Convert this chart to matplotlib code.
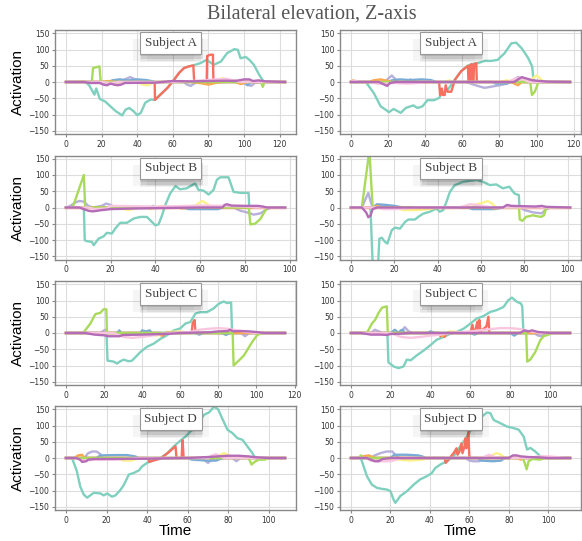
import matplotlib
matplotlib.use("Agg")
import matplotlib.pyplot as plt
import matplotlib.patheffects as pe

# line colours (Set3-like), in drawing order; purple ends up on top
colors = {
    "teal": "#7fd0bf", "yellow": "#fbf38a", "lavender": "#b7b0dc",
    "red": "#f76f5e", "blue": "#78acd6", "orange": "#fca94e",
    "green": "#a9da5a", "pink": "#f9c6df", "purple": "#b46cb7",
}

# each series: list of (time, activation)
subj_a_left = {
    "teal": [(0, 0), (11, 0), (13, -10), (16, -39), (17, -20), (19, -52), (22, -60), (25, -75), (28, -90),
             (30, -97), (31.5, -103), (33.5, -85), (35.5, -80), (38, -90), (40, -102), (42, -95), (44.5, -64),
             (47.5, -54), (50, -55), (53, -39), (57, -18), (60.7, 7), (63.5, 28), (66.3, 43), (69, 48),
             (71.5, 51), (72.5, 53), (75.5, 58), (79, 68), (83, 53), (87, 63), (90.5, 89), (94.5, 101),
             (96.5, 99), (98, 73), (101, 77), (103, 68), (105.5, 53), (108.5, 22), (110.5, 5), (111, 0), (123, 0)],
    "yellow": [(0, 0), (5, 0), (8, 3), (12, 0), (40, 0), (43, -8), (46, -10), (48, -5), (50, 0), (84, 0),
               (86, 8), (88, 12), (90, 8), (92, 0), (123, 0)],
    "lavender": [(0, 0), (30, 0), (33, 8), (36, 15), (39, 8), (42, 0), (66, 0), (68, -8), (70, -12), (72, -5),
                 (74, 0), (90, 0), (95, 5), (100, -5), (104, -12), (106, -3), (110, 0), (123, 0)],
    "red": [(0, 0), (49.8, 0), (50, -55), (53, -39), (57, -18), (60.7, 7), (63.5, 28), (66.3, 43), (69, 48),
            (71.5, 51), (72, 0), (79, 0), (79.3, 80), (81, 84), (82.5, 84), (82.8, 0), (123, 0)],
    "blue": [(0, 0), (24, 0), (26, 5), (30, 8), (35, 5), (40, 8), (45, 6), (48, 3), (50, 0), (75, 0), (78, -5),
             (82, 0), (100, 0), (102, -10), (104, 0), (123, 0)],
    "orange": [(0, 0), (20, 0), (24, 3), (28, 0), (70, 0), (75, -3), (80, -8), (84, -3), (88, 0), (95, 0),
               (98, -6), (102, 0), (123, 0)],
    "green": [(0, 0), (14.5, 0), (15.2, 43), (18.8, 48), (19.5, 0), (109.5, 0), (110.5, -15), (111.5, 0), (123, 0)],
    "pink": [(0, 0), (20, 0), (25, -3), (30, 0), (60, 0), (70, 3), (80, 6), (85, 8), (90, 10), (94, 5), (98, 0),
             (123, 0)],
    "purple": [(0, 0), (10, 0), (14, -3), (19, -3), (21, -8), (23, -10), (25, -5), (27, -8), (29, -10), (31, -8),
               (33, -3), (50, -2), (60, 3), (70, 2), (80, 3), (90, 4), (95, 3), (100, 8), (103, 8), (105, 3),
               (108, 5), (112, 2), (123, 0)],
}

subj_a_right = {
    "teal": [(0, 0), (8, 0), (12.3, -34), (16, -75), (18.6, -85), (20.4, -93), (23, -83), (26.8, -95),
             (29.5, -80), (32, -75), (33.6, -72), (35.8, -80), (38.5, -75), (41.2, -56), (44.8, -56), (47.5, -49),
             (49, -35), (52, -25), (56, 7), (59.3, 33), (63, 50), (65, 55), (68.4, 58), (72, 65), (75.6, 65),
             (79, 68), (82.8, 89), (86.4, 119), (89, 121), (91.9, 104), (93.7, 89), (95.5, 73), (97.6, 48),
             (98.2, 12), (99, 0), (118, 0)],
    "yellow": [(0, 0), (50, 0), (53, 5), (55, 0), (80, 0), (84, 5), (88, 0), (96, 0), (98, 12), (100, 20),
               (102, 10), (104, 0), (118, 0)],
    "lavender": [(0, 0), (18, 0), (20, 10), (22, 20), (24, 8), (26, 0), (30, 0), (32, 8), (34, 0), (62, 0),
                 (66, -8), (70, -15), (72, -18), (76, -14), (80, -10), (84, -5), (87, 5), (90, 15), (93, 8),
                 (95, 0), (118, 0)],
    "red": [(0, 0), (47.5, 0), (48, -40), (49, -20), (49.5, -40), (50.5, -40), (51, -10), (52, -30), (54, -30),
            (56, 7), (59.3, 33), (63, 50), (63.3, 0), (64, 0), (64.3, 52), (65, 55), (65.3, 0), (66, 0),
            (66.3, 55), (67.5, 58), (67.8, 0), (118, 0)],
    "blue": [(0, 0), (20, 0), (22, 5), (26, 8), (32, 6), (38, 8), (43, 6), (46, 0), (76, 0), (78, -5), (84, -5),
             (86, 0), (118, 0)],
    "orange": [(0, 0), (1, 5), (3, 0), (10, 0), (12, 5), (16, 8), (20, 3), (22, 0), (86, 0), (88, -5), (90, -10),
               (92, 0), (118, 0)],
    "green": [(0, 0), (96.5, 0), (97.5, -40), (99, -30), (101, 0), (118, 0)],
    "pink": [(0, 0), (2, 5), (4, 0), (10, 0), (14, -5), (20, -5), (24, -3), (30, -5), (36, -3), (40, 0), (85, 0),
             (88, 10), (91, 12), (94, 5), (96, 0), (118, 0)],
    "purple": [(0, 0), (15, 0), (18, -8), (19.5, -12), (21, -3), (24, 0), (88, 0), (90, 8), (92, 15), (95, 10),
               (98, 5), (102, 3), (106, 1), (118, 0)],
}

subj_b_left = {
    "teal": [(0, 0), (8, 0), (8.4, -100), (9, -103), (11.6, -106), (12.4, -116), (14.6, -96), (16.8, -89),
             (18.3, -78), (20.6, -80), (22, -65), (24.3, -47), (27.3, -47), (30.3, -34), (33.2, -29), (36.2, -29),
             (38.4, -44), (40, -55), (41.4, -52), (43, -24), (44.4, 7), (46.6, 43), (49, 66), (51, 56), (54, 59),
             (57.8, 74), (59.3, 54), (61.5, 52), (63.8, 40), (66, 54), (67.5, 85), (69, 93), (72.7, 93), (75, 48),
             (78, 45), (81.7, 45), (82, 0), (98, 0)],
    "yellow": [(0, 0), (24, 0), (26, -5), (28, -8), (30, -5), (32, 0), (36, 0), (38, -5), (40, 0), (43, 5),
               (45, 0), (57, 0), (59, 12), (61, 20), (63, 12), (65, 0), (70, 0), (72, 5), (74, 0), (98, 0)],
    "lavender": [(0, 0), (2, 5), (4, 15), (6, 20), (8, 18), (10, 5), (12, 0), (16, 5), (18, 12), (20, 8),
                 (22, 0), (75, 0), (78, -10), (81, -15), (84, -22), (87, -18), (90, -5), (92, 0), (98, 0)],
    "red": [(0, 0), (98, 0)],
    "blue": [(0, 0), (38, 0), (39, 5), (40, 0), (52, 0), (55, -5), (62, -5), (68, -5), (70, 0), (98, 0)],
    "orange": [(0, 0), (50, 0), (52, -3), (55, 0), (98, 0)],
    "green": [(0, 0), (3, 0), (8, 100), (8.6, 0), (81.8, 0), (82.5, -52), (84.6, -50), (87, -35), (90, 0),
              (98, 0)],
    "pink": [(0, 0), (10, 0), (13, -5), (18, -3), (20, 5), (30, 4), (40, 3), (50, 4), (60, 6), (70, 5), (80, 3),
             (85, 0), (98, 0)],
    "purple": [(0, 0), (6, 0), (8, -5), (10, -10), (12, -12), (14, -10), (16, -8), (20, -5), (30, -3), (40, -2),
               (60, 0), (70, 0), (71, 8), (72, 10), (74, 6), (80, 5), (86, 5), (88, 3), (90, 0), (98, 0)],
}

subj_b_right = {
    "teal": [(0, 0), (9, 0), (10, -175), (12.5, -175), (13.1, -96), (14.2, -93), (15.7, -106), (16.8, -111),
             (18.8, -70), (20.3, -62), (22.6, -65), (25, -44), (26.5, -37), (29.5, -37), (31, -29), (33.3, -19),
             (36.4, -13), (39.4, -3), (40.9, -13), (42.5, -8), (44, 17), (45.6, 48), (47.9, 69), (51.7, 79),
             (54.7, 82), (57.8, 85), (60.9, 79), (64, 69), (67, 71), (70, 59), (73, 64), (75.4, 43), (77.4, 38),
             (77.7, 0), (101, 0)],
    "yellow": [(0, 0), (20, 0), (24, -8), (30, -8), (36, -5), (40, 0), (55, 0), (58, 10), (61, 15), (63, 20),
               (65, 12), (67, 0), (101, 0)],
    "lavender": [(0, 0), (5, 0), (7, 30), (8, 45), (9, 20), (10, 0), (14, 5), (16, 0), (78, 0), (80, -8),
                 (84, -15), (88, -18), (90, -5), (92, 0), (101, 0)],
    "red": [(0, 0), (101, 0)],
    "blue": [(0, 0), (10, 0), (12, 10), (16, 8), (20, 5), (24, 0), (54, 0), (56, -5), (66, -5), (70, 0), (101, 0)],
    "orange": [(0, 0), (10, 0), (12, 5), (14, 0), (64, 0), (66, -3), (70, 0), (101, 0)],
    "green": [(0, 0), (5, 0), (8.5, 175), (10, 0), (77.5, 0), (77.8, -37), (79, -41), (80.7, -29), (83.8, -24),
              (87.6, -29), (89, -24), (90, 0), (101, 0)],
    "pink": [(0, 0), (12, 0), (15, -5), (20, -5), (25, -3), (30, 0), (50, 0), (55, 10), (58, 8), (62, 3),
             (66, 0), (101, 0)],
    "purple": [(0, 0), (5, 0), (7, -15), (8, -30), (9, -25), (10, -5), (12, 0), (70, 0), (72, 8), (74, 5),
               (80, 4), (85, 3), (88, 5), (90, 2), (101, 0)],
}

subj_c_left = {
    "teal": [(0, 0), (21.3, 0), (21.8, -85), (25, -88), (26.8, -94), (28.5, -87), (30.3, -82), (32.9, -87),
             (34.7, -85), (39, -59), (42.6, -42), (46, -33), (49.6, -18), (53, -7), (56.6, 8), (60, 14),
             (62.7, 29), (65.3, 34), (68, 60), (70.6, 64), (74, 64), (77.6, 76), (80.2, 90), (82.8, 97),
             (84.6, 92), (86.7, 94), (87.2, 0), (115, 0)],
    "yellow": [(0, 0), (44, 0), (47, -8), (50, -5), (53, 3), (60, 5), (65, 0), (115, 0)],
    "lavender": [(0, 0), (18, 0), (20, 8), (21, 10), (22, 0), (92, 0), (94, -10), (96, 0), (115, 0)],
    "red": [(0, 0), (50, 0), (51, -8), (52, 0), (66, 0), (66.5, 30), (67.5, 40), (68, 0), (115, 0)],
    "blue": [(0, 0), (27, 0), (28, 8), (29, 0), (39, 0), (40, 8), (42, 5), (44, 8), (45, 0), (68, 0), (70, -5),
             (72, 0), (82, 0), (84, -6), (86, 0), (115, 0)],
    "orange": [(0, 0), (48, 0), (50, -8), (52, 0), (115, 0)],
    "green": [(0, 0), (9, 0), (12.8, 29), (15.4, 58), (18, 62), (19.8, 73), (21.2, 73), (21.5, 0), (87.5, 0),
              (88, -100), (90.7, -85), (93.3, -70), (95, -54), (97.7, -28), (100.3, -7), (102, -2), (104, 0),
              (115, 0)],
    "pink": [(0, 0), (25, 0), (30, -12), (35, -15), (40, -12), (45, -8), (50, -3), (55, 0), (65, 3), (70, 10),
             (75, 13), (80, 15), (85, 13), (90, 8), (95, 3), (100, 0), (115, 0)],
    "purple": [(0, 0), (10, 0), (15, -5), (20, -7), (22, -10), (28, -10), (30, -6), (40, -5), (55, -2), (60, 0),
               (75, 2), (80, 5), (85, 6), (86, 10), (88, 5), (92, 6), (96, 5), (100, 3), (104, 0), (115, 0)],
}

subj_c_right = {
    "teal": [(0, 0), (18.3, 0), (18.8, -90), (21.4, -103), (23.9, -108), (26.4, -103), (28, -82), (30, -84),
             (33, -69), (36.5, -54), (39.8, -38), (43, -21), (46.5, -12), (50, -2), (53, 3), (56.5, 13),
             (60, 29), (63, 44), (66.5, 52), (70, 65), (73, 70), (76.6, 80), (79, 101), (80.8, 109), (83.3, 96),
             (85.3, 91), (86, 82), (86.6, 0), (110, 0)],
    "yellow": [(0, 0), (48, 0), (50, 5), (54, 3), (56, 0), (110, 0)],
    "lavender": [(0, 0), (10, 0), (12, 10), (14, 5), (16, 0), (25, 0), (27, 18), (29, 5), (31, 0), (92, 0),
                 (94, -8), (96, -10), (98, 0), (110, 0)],
    "red": [(0, 0), (44, 0), (45, -10), (46, -5), (47, -12), (48, 0), (60, 0), (61, 25), (61.5, 5), (62.5, 10),
            (63.5, 35), (64, 8), (64.5, 40), (65, 5), (66, 10), (68, 20), (69, 50), (69.5, 0), (110, 0)],
    "blue": [(0, 0), (20, 0), (22, 10), (23, 5), (24, 0), (25, 8), (26, 10), (27, 0), (38, 0), (40, 5), (42, 0),
             (60, 0), (62, -5), (64, 0), (80, 0), (82, -8), (84, 0), (110, 0)],
    "orange": [(0, 0), (44, 0), (46, -10), (48, 0), (110, 0)],
    "green": [(0, 0), (8, 0), (10.5, 29), (12.2, 41), (13.9, 62), (15.6, 78), (18, 82), (18.5, 0), (88, 0),
              (88.5, -88), (90, -82), (92.5, -59), (95, -23), (96.7, -10), (99.2, -5), (101, 0), (110, 0)],
    "pink": [(0, 0), (20, 0), (25, -12), (30, -15), (35, -12), (40, -8), (45, -5), (50, 0), (60, 5), (70, 12),
             (75, 15), (80, 15), (85, 12), (90, 5), (95, 0), (110, 0)],
    "purple": [(0, 0), (5, 0), (10, -5), (15, -5), (18, -6), (20, -3), (25, -2), (30, 0), (85, 0), (87, 8),
               (89, 5), (91, 8), (94, 3), (100, 0), (110, 0)],
}

subj_d_left = {
    "teal": [(0, 0), (3, 0), (5.4, -41), (7, -87), (8.7, -112), (10.4, -122), (12, -115), (13.7, -107),
             (17, -109), (18.6, -115), (20.3, -109), (22.7, -119), (24.4, -115), (27, -97), (28.6, -82),
             (31, -51), (33.4, -46), (36, -38), (37.5, -26), (40, -15), (43.3, -7), (46.6, 0), (50, 15),
             (53.2, 36), (56.5, 54), (59, 66), (61.4, 82), (64.7, 99), (68, 133), (70.5, 140), (73, 158),
             (75, 150), (77, 122), (79.6, 87), (82, 77), (84.5, 61), (87, 56), (89.4, 36), (91.9, 15),
             (92.8, 5), (94, 0), (108, 0)],
    "yellow": [(0, 0), (26, 0), (28, -8), (32, -8), (35, -3), (37, 0), (74, 0), (76, 10), (78, 15), (80, 8),
               (82, 0), (108, 0)],
    "lavender": [(0, 0), (9, 0), (11, 15), (13, 20), (15, 20), (17, 12), (18, 0), (66, 0), (68, -5), (70, -15),
                 (72, -5), (74, 0), (82, 0), (84, -10), (86, 0), (108, 0)],
    "red": [(0, 0), (40.5, 0), (41, -12), (43, -8), (46.6, -2), (50.7, 18), (54, 36), (54.5, 0), (57, 0),
            (57.5, 55), (58, 0), (108, 0)],
    "blue": [(0, 0), (15, 0), (17, 8), (25, 9), (30, 9), (34, 5), (36, 0), (60, 0), (62, -5), (70, -8), (74, -8),
             (76, -3), (78, 0), (108, 0)],
    "orange": [(0, 0), (4, 0), (6, 8), (8, 10), (9, 0), (108, 0)],
    "green": [(0, 0), (90, 0), (91.5, -20), (93, -12), (95, -5), (98, -5), (100, 0), (108, 0)],
    "pink": [(0, 0), (5, 0), (8, -8), (15, -5), (25, -5), (30, -3), (35, 0), (70, 0), (72, 8), (74, 12),
             (76, 5), (78, 0), (108, 0)],
    "purple": [(0, 0), (5, 0), (7, -5), (8, -12), (10, -10), (11, -5), (14, -3), (20, -3), (40, -2), (60, 0),
               (70, 3), (75, 5), (80, 7), (85, 7), (90, 5), (94, 2), (100, 0), (108, 0)],
}

subj_d_right = {
    "teal": [(0, 0), (5, 0), (8.1, -56), (10.6, -82), (13.2, -92), (15.7, -95), (18.2, -97), (20, -102),
             (21.6, -128), (22.5, -138), (25, -117), (28.4, -102), (31.8, -82), (35, -66), (38.5, -56),
             (41, -46), (42.7, -31), (45.3, -20), (48.6, -10), (52, 5), (55.4, 36), (57.1, 51), (58.8, 66),
             (61.3, 92), (63.9, 115), (66.4, 128), (68.9, 140), (70.6, 138), (72.3, 117), (75.7, 107), (79, 97),
             (82.4, 92), (85, 87), (87.5, 66), (89.2, 26), (90.9, 31), (93.4, 20), (96, 5), (98, 0), (111, 0)],
    "yellow": [(0, 0), (20, 0), (24, -5), (30, -8), (36, -5), (40, 0), (70, 0), (72, 10), (74, 15), (76, 10),
               (78, 0), (111, 0)],
    "lavender": [(0, 0), (10, 0), (12, 8), (15, 15), (18, 20), (21, 20), (23, 5), (25, 0), (58, 0), (60, -8),
                 (62, -10), (65, -10), (67, 0), (111, 0)],
    "red": [(0, 0), (47.5, 0), (48, -15), (49, -8), (50, 0), (52, 15), (53.5, 30), (54, 10), (55, 20), (56, 45),
            (56.5, 15), (57.5, 35), (58, 60), (58.5, 30), (59.5, 80), (60, 0), (111, 0)],
    "blue": [(0, 0), (20, 0), (22, 10), (28, 10), (34, 8), (36, 5), (38, 0), (64, 0), (66, -8), (72, -10),
             (76, -8), (78, 0), (111, 0)],
    "orange": [(0, 0), (4, 0), (6, 5), (9, 8), (11, 3), (12, 0), (84, 0), (86, -5), (88, 0), (111, 0)],
    "green": [(0, 0), (4, 0), (5, 8), (6, 0), (87, 0), (88, -15), (89, -35), (90, -10), (92, -3), (96, -5),
              (98, 0), (111, 0)],
    "pink": [(0, 0), (8, 0), (10, -8), (15, -10), (20, -10), (23, -5), (26, 0), (66, 0), (68, 5), (70, 10),
             (72, 5), (74, 0), (90, 0), (95, 5), (100, 5), (104, 3), (108, 0), (111, 0)],
    "purple": [(0, 0), (8, 0), (10, -5), (12, -10), (14, -10), (16, -3), (20, 0), (80, 0), (82, 8), (84, 8),
               (86, 5), (90, 3), (95, 2), (100, 0), (111, 0)],
}

panels = [
    (subj_a_left, "Subject A"), (subj_a_right, "Subject A"),
    (subj_b_left, "Subject B"), (subj_b_right, "Subject B"),
    (subj_c_left, "Subject C"), (subj_c_right, "Subject C"),
    (subj_d_left, "Subject D"), (subj_d_right, "Subject D"),
]

W, H = 582, 541
fig = plt.figure(figsize=(W / 100, H / 100), dpi=100)

col_left = [55, 340]
row_top = [30, 155.5, 281, 406]
ax_w, ax_h = 241, 104
box_x = [0.48, 0.46]

# soft-ish shadow under the subject boxes
shadow = [pe.SimplePatchShadow(offset=(dx, dy), shadow_rgbFace="k", alpha=a)
          for dx, dy, a in [(-5, -5, 0.04), (5, -5, 0.04), (0, -6, 0.06), (1, -4, 0.1), (0, -2, 0.1)]]

for i, (data, label) in enumerate(panels):
    r, c = divmod(i, 2)
    ax = fig.add_axes([col_left[c] / W, 1 - (row_top[r] + ax_h) / H, ax_w / W, ax_h / H])
    for name, col in colors.items():
        t = [p[0] for p in data[name]]
        v = [p[1] for p in data[name]]
        ax.plot(t, v, color=col, lw=1.7, solid_joinstyle="round")
    ax.set_ylim(-160, 160)
    ax.set_yticks([-150, -100, -50, 0, 50, 100, 150])
    ax.set_xticks(range(0, 140, 20))
    ax.set_xlim(-0.05 * t[-1], 1.05 * t[-1])
    ax.grid(True, color="#dddddd", lw=0.8)
    ax.set_axisbelow(True)
    for s in ax.spines.values():
        s.set_color("#888888")
        s.set_linewidth(1.0)
    ax.tick_params(labelsize=5.5, colors="#888888", labelcolor="#333333", length=2.5, width=0.8, pad=1.5)

    txt = ax.text(box_x[c], 0.875, label, transform=ax.transAxes, ha="center", va="center",
                  family="Liberation Serif", fontsize=9.5, color="#444444", zorder=10,
                  bbox=dict(boxstyle="square,pad=0.35", fc="white", ec="#999999", lw=0.8))
    txt.get_bbox_patch().set_path_effects(shadow + [pe.Normal()])

    if c == 0:
        fig.text(18 / W, 1 - (row_top[r] + ax_h / 2) / H, "Activation", rotation=90,
                 ha="center", va="center", family="Liberation Sans", fontsize=11)

fig.text(175 / W, 1 - 535 / H, "Time", ha="center", va="baseline", family="Liberation Sans", fontsize=11)
fig.text(460 / W, 1 - 535 / H, "Time", ha="center", va="baseline", family="Liberation Sans", fontsize=11)

fig.text(312 / W, 1 - 19 / H, "Bilateral elevation, Z-axis", ha="center", va="baseline",
         family="Liberation Serif", fontsize=14.5, color="#555555")

fig.savefig("out.png", dpi=100)
